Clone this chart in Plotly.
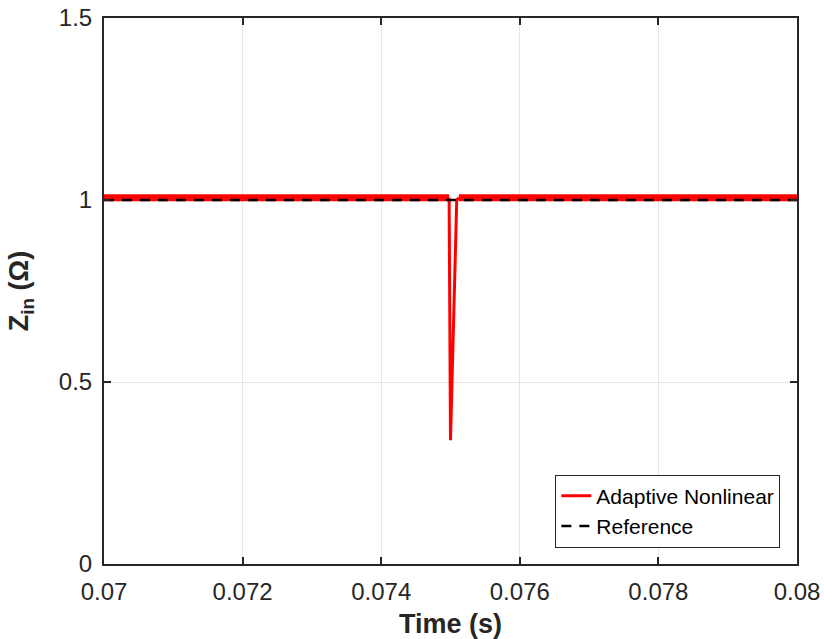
import plotly.graph_objects as go

# Data
t_flat1 = [0.07, 0.07498]
z_flat1 = [1.006, 1.006]
t_dip = [0.07498, 0.0750, 0.07509, 0.07512]
z_dip = [1.006, 0.34, 1.0, 1.006]
t_flat2 = [0.07512, 0.08]
z_flat2 = [1.006, 1.006]
t_ref = [0.07, 0.08]
z_ref = [1.0, 1.0]

x_ticks = [0.07, 0.072, 0.074, 0.076, 0.078, 0.08]
x_ticklabels = ["0.07", "0.072", "0.074", "0.076", "0.078", "0.08"]
y_ticks = [0, 0.5, 1, 1.5]
y_ticklabels = ["0", "0.5", "1", "1.5"]

RED = "#ff0000"
FONT = "Liberation Sans, Arial"
fig = go.Figure()
fig.add_trace(go.Scatter(x=t_flat1, y=z_flat1, mode="lines", line=dict(color=RED, width=7),
                         legendgroup="a", showlegend=False, hoverinfo="skip"))
fig.add_trace(go.Scatter(x=t_flat2, y=z_flat2, mode="lines", line=dict(color=RED, width=7),
                         legendgroup="a", showlegend=False, hoverinfo="skip"))
fig.add_trace(go.Scatter(x=t_dip, y=z_dip, mode="lines", line=dict(color=RED, width=3),
                         name="Adaptive Nonlinear", legendgroup="a"))
fig.add_trace(go.Scatter(x=t_ref, y=z_ref, mode="lines",
                         line=dict(color="black", width=2.5, dash="10px,8px"),
                         name="Reference"))

axis_common = dict(
    showline=True, linecolor="#262626", linewidth=2, mirror="ticks",
    ticks="inside", ticklen=7, tickwidth=1.5, tickcolor="#262626",
    showgrid=True, gridcolor="#e6e6e6", gridwidth=1, zeroline=False,
    automargin=False, ticklabeloverflow="allow", ticklabelstandoff=5,
    tickfont=dict(family=FONT, size=24, color="#262626"),
)
fig.update_layout(
    width=824, height=639,
    margin=dict(l=104, r=27, t=18, b=75),
    paper_bgcolor="white", plot_bgcolor="white",
    xaxis=dict(range=[0.07, 0.08], tickvals=x_ticks, ticktext=x_ticklabels,
               title=dict(text="<b>Time (s)</b>", standoff=10,
                          font=dict(family=FONT, size=27, color="#262626")),
               **axis_common),
    yaxis=dict(range=[0, 1.5], tickvals=y_ticks, ticktext=y_ticklabels,
               title=dict(text="<b>Z<sub>in</sub> (Ω)</b>", standoff=22,
                          font=dict(family=FONT, size=27, color="#262626")),
               **axis_common),
    legend=dict(x=0.976, y=0.03, xanchor="right", yanchor="bottom",
                bgcolor="white", bordercolor="#262626", borderwidth=1,
                font=dict(family=FONT, size=21, color="black"),
                tracegroupgap=0),
    showlegend=True,
)
fig.write_html("out.html", config={"displayModeBar": False},
               post_script="document.body.style.margin='0';document.body.style.overflow='hidden';")
